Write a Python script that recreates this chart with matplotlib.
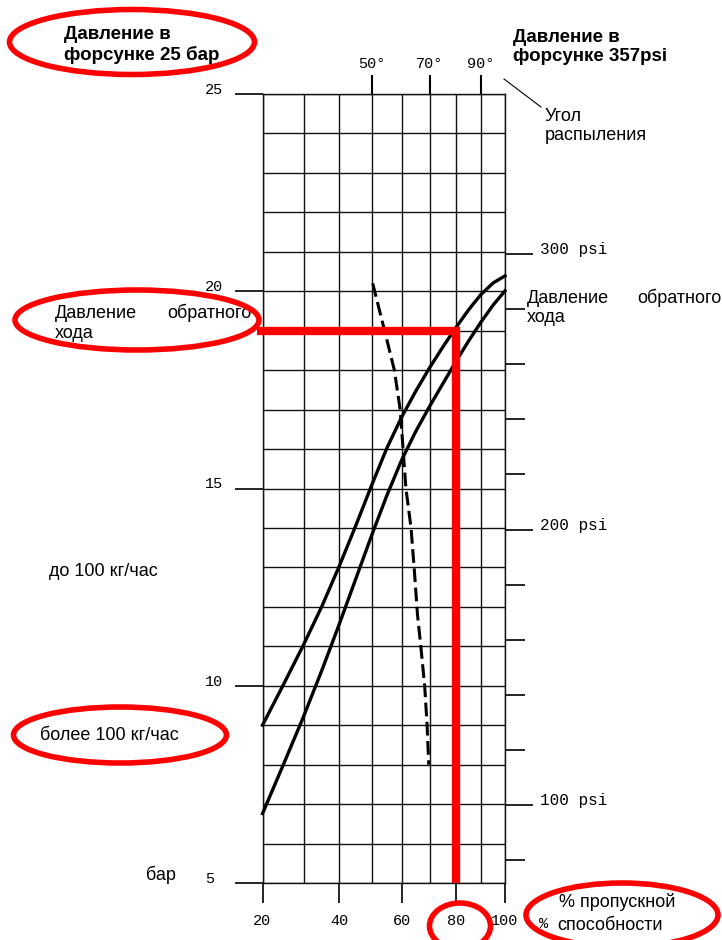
import numpy as np
import matplotlib.pyplot as plt
from matplotlib.patches import Ellipse
from matplotlib.lines import Line2D

plt.rcParams['font.family'] = ['Liberation Sans', 'DejaVu Sans']
MONO = 'Liberation Mono'

W, H = 722, 940

# pressure (bar) vs % of nozzle capacity
cap_x = [20, 25, 30, 35, 40, 45, 50, 55, 60, 65, 70, 75, 80, 85, 90, 95, 100]
upper_y = [9.0, 10.05, 11.04, 12.02, 13.04, 14.07, 15.09, 16.03, 16.81, 17.47,
           18.06, 18.59, 19.08, 19.53, 19.92, 20.21, 20.39]
lower_y = [6.76, 8.03, 9.22, 10.40, 11.57, 12.72, 13.82, 14.83, 15.72, 16.45,
           17.08, 17.66, 18.22, 18.74, 19.22, 19.65, 20.01]

# spray angle line (dashed)
angle_x = [50.3, 54.7, 57.5, 59.5, 60.5, 61.5, 63.3, 64.5, 65.6, 66.8, 68.2, 69.1, 69.7]
angle_y = [20.2, 18.85, 18.0, 17.0, 16.0, 15.0, 14.0, 12.9, 11.8, 11.0, 10.0, 9.0, 8.0]

# red guide: 19 bar return pressure -> 80 %
guide_x = [18.8, 80, 80]
guide_y = [19, 19, 5]

x_major = [20, 40, 60, 80, 100]
x_major_labels = ['20', '40', '60', '80', '100']
x_minor = [30, 50, 70, 90]
y_major = [5, 10, 15, 20, 25]
y_major_labels = ['5', '10', '15', '20', '25']
angle_ticks = [50, 70, 90]
angle_labels = ['50°', '70°', '90°']
psi_major = [100, 200, 300]
psi_labels = ['100 psi', '200 psi', '300 psi']
psi_minor = list(range(80, 300, 20))
BAR_PER_PSI = 0.0698  # as drawn on the original scale


def fwd(x):
    return np.sign(x) * np.abs(x) ** 0.6


def inv(x):
    return np.sign(x) * np.abs(x) ** (1 / 0.6)


def fx(px):
    return px / W


def fy(py):
    return 1 - py / H


fig = plt.figure(figsize=(W / 100, H / 100), dpi=100)
ax = fig.add_axes([fx(262.5), fy(883), (505 - 262.5) / W, (883 - 94) / H])
ax.set_xscale('function', functions=(fwd, inv))
ax.set_xlim(20, 100)
ax.set_ylim(5, 25)

ax.set_xticks(x_major, x_major_labels)
ax.set_xticks(x_minor, minor=True)
ax.set_yticks(y_major, y_major_labels)
ax.set_yticks(range(5, 26), minor=True)
ax.grid(which='both', color='#111111', lw=1.0)
ax.set_axisbelow(True)
for s in ax.spines.values():
    s.set_linewidth(1.0)
    s.set_color('#111111')

ax.tick_params(axis='x', which='major', direction='out', length=14.4, width=1.2,
               pad=8, labelsize=11, labelfontfamily=MONO)
ax.tick_params(axis='y', which='major', direction='out', length=20.5, width=1.2,
               pad=21, labelsize=11, labelfontfamily=MONO)
ax.tick_params(which='minor', length=0)
plt.setp(ax.get_yticklabels(), ha='left', va='baseline')
ax.annotate('%', xy=(1, 0), xycoords='axes fraction', xytext=(39, -41),
            textcoords='offset pixels', ha='center', va='center',
            fontsize=11, family=MONO)

# top: spray angle
axt = ax.twiny()
axt.set_xscale('function', functions=(fwd, inv))
axt.set_xlim(20, 100)
axt.set_xticks(angle_ticks, angle_labels)
axt.tick_params(axis='x', direction='out', length=13.7, width=1.5, pad=3,
                labelsize=11, labelfontfamily=MONO)
for s in axt.spines.values():
    s.set_visible(False)

# right: psi
sec = ax.secondary_yaxis('right', functions=(lambda b: b / BAR_PER_PSI,
                                             lambda p: p * BAR_PER_PSI))
sec.set_yticks(psi_major, psi_labels)
sec.set_yticks(psi_minor, minor=True)
sec.tick_params(which='major', direction='out', length=20, width=1.2, pad=5,
                labelsize=11.5, labelfontfamily=MONO)
sec.tick_params(which='minor', direction='out', length=14.4, width=1.2)
plt.setp(sec.get_yticklabels(), va='baseline')
for s in sec.spines.values():
    s.set_visible(False)

ax.plot(cap_x, upper_y, color='black', lw=2.4, zorder=3, clip_on=False,
        solid_joinstyle='round')
ax.plot(cap_x, lower_y, color='black', lw=2.4, zorder=3, clip_on=False,
        solid_joinstyle='round')
ax.plot(angle_x, angle_y, color='black', lw=2.2, dashes=(4.5, 1.8), zorder=3)
ax.plot(guide_x, guide_y, color='#ff0000', lw=6, solid_joinstyle='miter',
        solid_capstyle='butt', zorder=4, clip_on=False)

# captions
bold = dict(fontsize=13.5, fontweight='bold', ha='left', va='center')
norm = dict(fontsize=13, ha='left', va='center')
fig.text(fx(64), fy(45), 'Давление в\nфорсунке 25 бар', **bold)
fig.text(fx(513), fy(47), 'Давление в\nфорсунке 357psi', **bold)
fig.text(fx(545), fy(126), 'Угол\nраспыления', **norm)
fig.text(fx(55), fy(313), 'Давление', **norm)
fig.text(fx(252), fy(313), 'обратного', fontsize=13, ha='right', va='center')
fig.text(fx(55), fy(333), 'хода', **norm)
fig.text(fx(527), fy(298), 'Давление', **norm)
fig.text(fx(637), fy(298), 'обратного', **norm)
fig.text(fx(527), fy(318), 'хода', **norm)
fig.text(fx(49), fy(572), 'до 100 кг/час', **norm)
fig.text(fx(40), fy(736), 'более 100 кг/час', **norm)
fig.text(fx(146), fy(875), 'бар', **norm)
fig.text(fx(559), fy(902), '% пропускной', **norm)
fig.text(fx(557), fy(925), 'способности', **norm)

fig.add_artist(Line2D([fx(504), fx(541)], [fy(79), fy(107)], color='black', lw=0.8))

# red ellipses (centre x, centre y, width, height) in pixels
for cx, cy, ew, eh in [(132, 42, 245, 65), (137, 320, 244, 60), (120, 735, 213, 56),
                       (460, 926, 61, 46), (622, 915, 192, 64)]:
    fig.add_artist(Ellipse((fx(cx), fy(cy)), ew / W, eh / H, fill=False,
                           edgecolor='#ff0000', lw=4, zorder=5))

fig.savefig('out.png', dpi=100, facecolor='white')
